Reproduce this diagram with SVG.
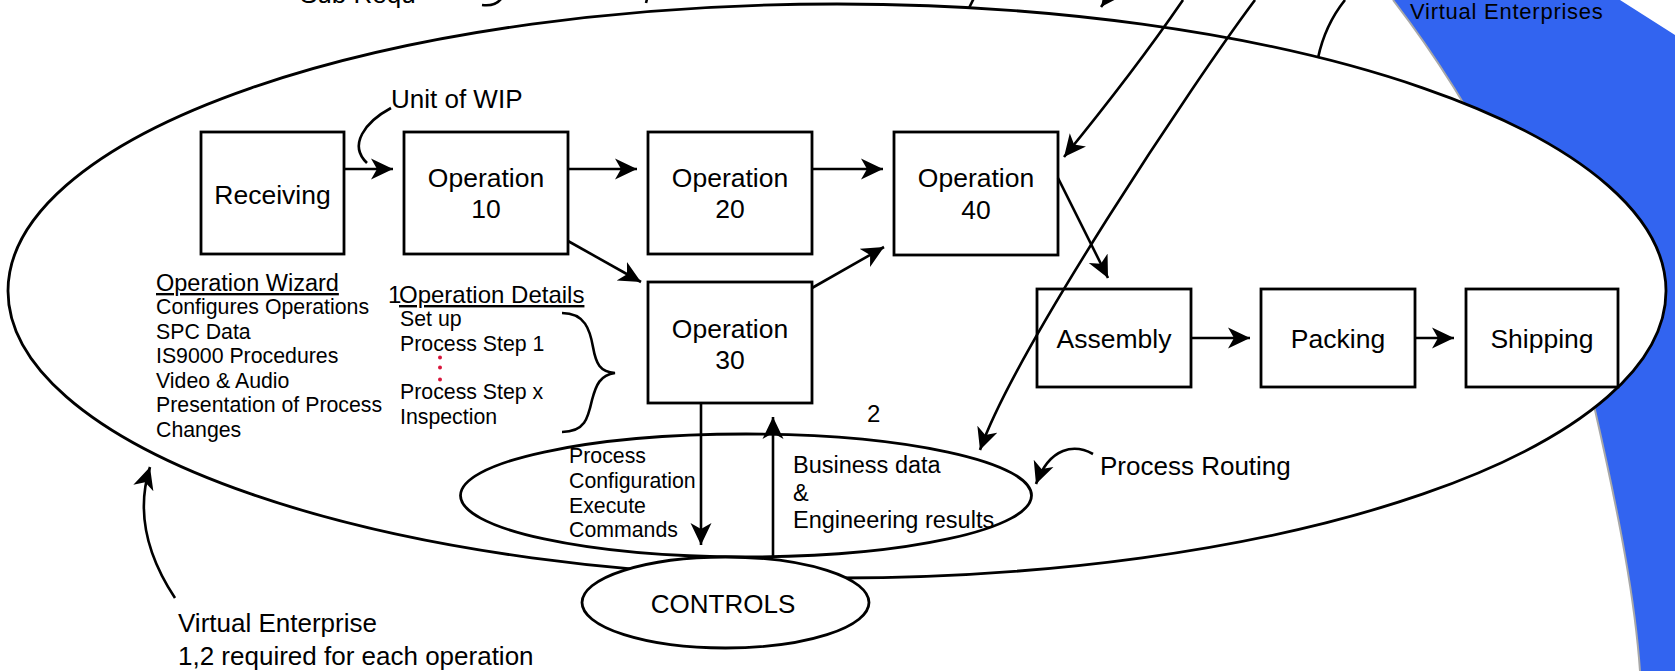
<svg xmlns="http://www.w3.org/2000/svg" width="1675" height="671" viewBox="0 0 1675 671">
  <style>
    .t{font-family:"Liberation Sans",Arial,Helvetica,sans-serif;fill:#000}
    .c{text-anchor:middle}
    .box{fill:#fff;stroke:#000;stroke-width:2.8}
    .oval{fill:#fff;stroke:#000;stroke-width:2.8}
    .ln{fill:none;stroke:#000;stroke-width:2.6}
    .arr{fill:none;stroke:#000;stroke-width:2.6;marker-end:url(#ah)}
    .f26{font-size:26px}
    .fb{font-size:26.5px}
    .f24{font-size:24px}
    .f21{font-size:21.3px}
  </style>
  <defs>
    <marker id="ah" markerUnits="userSpaceOnUse" markerWidth="24" markerHeight="24" refX="22" refY="11" orient="auto">
      <path d="M0,0.5 L22,11 L0,21.5 L6,11 Z" fill="#000"/>
    </marker>
  </defs>

  <!-- blue band of the virtual enterprises, behind everything -->
  <g id="virtual-enterprises-band">
    <path d="M1393,0 C1470,100 1560,260 1595,410 C1620,520 1635,600 1640,671 L1675,671 L1675,35 L1620,0 Z" fill="#3264F0"/>
    <path d="M1393,0 C1470,100 1560,260 1595,410 C1620,520 1635,600 1640,671" fill="none" stroke="#a8a8a8" stroke-width="2"/>
    <text class="t" x="1410" y="18.5" font-size="22" letter-spacing="0.75">Virtual Enterprises</text>
  </g>

  <!-- partial label running off the top edge -->
  <g id="top-label">
    <text class="t f26" x="300" y="3">Sub Requ</text>
  </g>

  <!-- the enterprise boundary -->
  <g id="enterprise">
    <ellipse class="oval" cx="837" cy="291" rx="829" ry="287"/>
  </g>

  <!-- process routing oval -->
  <g id="routing-oval">
    <ellipse class="oval" cx="746" cy="495.5" rx="285.5" ry="61.5"/>
    <text class="t f21" x="569" y="463">Process</text>
    <text class="t f21" x="569" y="488">Configuration</text>
    <text class="t f21" x="569" y="513">Execute</text>
    <text class="t f21" x="569" y="537">Commands</text>
    <text class="t" x="793" y="473" font-size="23.5">Business data</text>
    <text class="t" x="793" y="501" font-size="23.5">&amp;</text>
    <text class="t" x="793" y="528" font-size="23.5">Engineering results</text>
  </g>

  <g id="controls">
    <ellipse class="oval" cx="725.5" cy="602.5" rx="143.5" ry="45.5"/>
    <text class="t f26 c" x="723" y="613">CONTROLS</text>
  </g>

  <!-- process steps -->
  <g id="receiving">
    <rect class="box" x="201" y="132" width="143" height="122"/>
    <text class="t fb c" x="272.5" y="204">Receiving</text>
  </g>
  <g id="operation-10">
    <rect class="box" x="404" y="132" width="164" height="122"/>
    <text class="t fb c" x="486" y="187">Operation</text>
    <text class="t fb c" x="486" y="218">10</text>
  </g>
  <g id="operation-20">
    <rect class="box" x="648" y="132" width="164" height="122"/>
    <text class="t fb c" x="730" y="187">Operation</text>
    <text class="t fb c" x="730" y="218">20</text>
  </g>
  <g id="operation-30">
    <rect class="box" x="648" y="282" width="164" height="121"/>
    <text class="t fb c" x="730" y="338">Operation</text>
    <text class="t fb c" x="730" y="369">30</text>
  </g>
  <g id="operation-40">
    <rect class="box" x="894" y="132" width="164" height="123"/>
    <text class="t fb c" x="976" y="187">Operation</text>
    <text class="t fb c" x="976" y="219">40</text>
  </g>
  <g id="assembly">
    <rect class="box" x="1037" y="289" width="154" height="98"/>
    <text class="t fb c" x="1114" y="348">Assembly</text>
  </g>
  <g id="packing">
    <rect class="box" x="1261" y="289" width="154" height="98"/>
    <text class="t fb c" x="1338" y="348">Packing</text>
  </g>
  <g id="shipping">
    <rect class="box" x="1466" y="289" width="152" height="98"/>
    <text class="t fb c" x="1542" y="348">Shipping</text>
  </g>

  <!-- notes -->
  <g id="operation-wizard">
    <text class="t" x="156" y="291" font-size="23.5" text-decoration="underline">Operation Wizard</text>
    <text class="t f21" x="156" y="314">Configures Operations</text>
    <text class="t f21" x="156" y="339">SPC Data</text>
    <text class="t f21" x="156" y="363">IS9000 Procedures</text>
    <text class="t f21" x="156" y="388">Video &amp; Audio</text>
    <text class="t f21" x="156" y="412">Presentation of Process</text>
    <text class="t f21" x="156" y="437">Changes</text>
  </g>
  <g id="operation-details">
    <text class="t f24" x="388" y="303">1</text>
    <text class="t f24" x="399" y="303" text-decoration="underline">Operation Details</text>
    <text class="t f21" x="400" y="326">Set up</text>
    <text class="t f21" x="400" y="351">Process Step 1</text>
    <circle cx="440" cy="357.5" r="2" fill="#d8163c"/>
    <circle cx="440" cy="367.5" r="2" fill="#d8163c"/>
    <circle cx="440" cy="379.5" r="2" fill="#d8163c"/>
    <text class="t f21" x="400" y="399">Process Step x</text>
    <text class="t f21" x="400" y="424">Inspection</text>
    <path class="ln" d="M562,313 C585,313 590,330 593,347 C596,364 600,372 615,373 C600,375 596,385 592,400 C588,418 585,432 562,432"/>
  </g>
  <g id="labels">
    <text class="t f26" x="391" y="108">Unit of WIP</text>
    <text class="t f24" x="867" y="422">2</text>
    <text class="t f26" x="1100" y="475">Process Routing</text>
    <text class="t f26" x="178" y="632">Virtual Enterprise</text>
    <text class="t f26" x="178" y="665">1,2 required for each operation</text>
  </g>

  <!-- connectors -->
  <g id="connectors">
    <path class="arr" d="M344,169 L393,169"/>
    <path class="arr" d="M568,169 L637,169"/>
    <path class="arr" d="M812,169 L883,169"/>
    <path class="arr" d="M568,241 L641,282"/>
    <path class="arr" d="M812,288 L884,247"/>
    <path class="arr" d="M1058,178 L1108,278"/>
    <path class="arr" d="M1191,338 L1250,338"/>
    <path class="arr" d="M1415,338 L1454,338"/>
    <path class="arr" d="M701,403 L701,545"/>
    <path class="arr" d="M773,557 L773,417"/>
    <path class="ln" d="M391,108 C365,122 348,145 367,163"/>
    <path class="arr" d="M1183,0 Q1135,70 1064,157"/>
    <path class="arr" d="M1255,0 C1195,80 1015,350 980,450"/>
    <path class="ln" d="M1345,0 Q1325,25 1318,58"/>
    <path class="arr" d="M1125,-25 L1101,7"/>
    <path class="ln" d="M482,5 Q497,7 503,-4"/>
    <path class="ln" d="M648,-5 L646,3"/>
    <path class="ln" d="M976,-6 L969,8"/>
    <path class="arr" d="M1093,454 C1075,444 1050,446 1036,484"/>
    <path class="arr" d="M175,598 Q130,530 150,467"/>
  </g>
</svg>
